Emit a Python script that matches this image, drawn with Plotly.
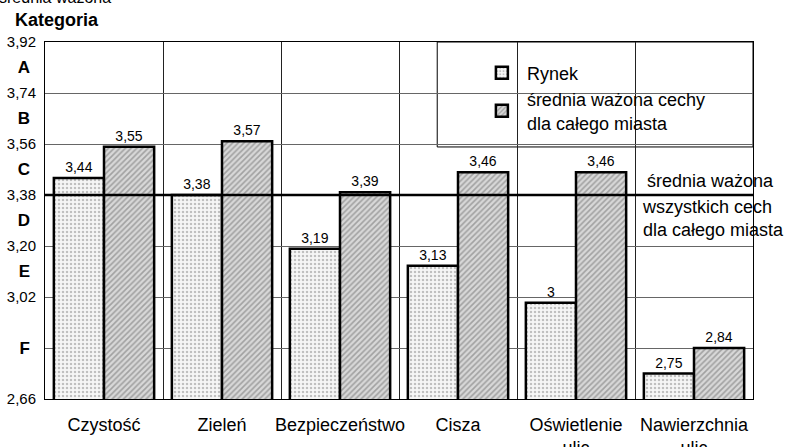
import plotly.graph_objects as go

categories = ["Czystość", "Zieleń", "Bezpieczeństwo", "Cisza", "Oświetlenie<br>ulic", "Nawierzchnia<br>ulic"]
rynek = [3.44, 3.38, 3.19, 3.13, 3.00, 2.75]
miasto = [3.55, 3.57, 3.39, 3.46, 3.46, 2.84]
overall_avg = 3.38
y_ticks = [2.66, 2.84, 3.02, 3.20, 3.38, 3.56, 3.74, 3.92]
y_ticktext = ["2,66", "", "3,02", "3,20", "3,38", "3,56", "3,74", "3,92"]
grade_vals = [2.84, 3.11, 3.29, 3.47, 3.65, 3.83]
grade_text = ["F", "E", "D", "C", "B", "A"]
series_names = ["Rynek", "średnia ważona cechy<br>dla całego miasta"]

FONT = "Arial, Liberation Sans, sans-serif"


def fmt(v):
    return f"{v:g}".replace(".", ",")


fig = go.Figure()
fig.add_trace(go.Bar(
    x=categories, y=rynek, name=series_names[0],
    text=[fmt(v) for v in rynek], textposition="outside",
    textfont=dict(size=14, color="black", family=FONT), cliponaxis=False,
    marker=dict(color="white", line=dict(color="black", width=2.5),
                pattern=dict(shape=".", fgcolor="#8a8a8a", bgcolor="#f6f6f6", size=4, solidity=0.3)),
))
fig.add_trace(go.Bar(
    x=categories, y=miasto, name=series_names[1],
    text=[fmt(v) for v in miasto], textposition="outside",
    textfont=dict(size=14, color="black", family=FONT), cliponaxis=False,
    marker=dict(color="white", line=dict(color="black", width=2.5),
                pattern=dict(shape="/", fgcolor="#6a6a6a", bgcolor="#d8d8d8", size=4, solidity=0.4)),
))

# invisible trace to keep letters axis alive
fig.add_trace(go.Scatter(x=[categories[0]], y=[overall_avg], yaxis="y2", mode="markers",
                         marker=dict(opacity=0), showlegend=False, hoverinfo="skip"))

fig.add_shape(type="line", xref="paper", x0=0, x1=1, yref="y", y0=overall_avg, y1=overall_avg,
              line=dict(color="black", width=2.5), layer="above")
fig.add_shape(type="rect", xref="paper", yref="paper", x0=0.554, x1=1.0, y0=0.706, y1=1.0,
              line=dict(color="black", width=1), fillcolor="white", layer="between")

ann_font = dict(family=FONT, size=18, color="black")
fig.add_annotation(text="średnia ważona", xref="paper", yref="paper", x=0.848, y=0.61,
                   xanchor="left", yanchor="middle", showarrow=False, font=ann_font)
fig.add_annotation(text="wszystkich cech<br>dla całego miasta", xref="paper", yref="paper",
                   x=0.84, y=0.505, xanchor="left", yanchor="middle", showarrow=False,
                   font=ann_font, align="left")
fig.add_annotation(text="<b>Kategoria</b>", xref="paper", yref="paper", x=-0.045, y=1.062,
                   xanchor="left", yanchor="middle", showarrow=False,
                   font=dict(family=FONT, size=18, color="black"))
fig.add_annotation(text="średnia ważona", xref="paper", yref="paper", x=-0.068, y=1.124,
                   xanchor="left", yanchor="middle", showarrow=False,
                   font=dict(family=FONT, size=16, color="black"))

fig.update_layout(
    width=786, height=447,
    margin=dict(l=45, r=33, t=42, b=48, autoexpand=False),
    paper_bgcolor="white", plot_bgcolor="white",
    barmode="group", bargap=0.15, bargroupgap=0,
    font=dict(family=FONT, color="black"),
    showlegend=True,
    legend=dict(x=0.61, y=0.965, xanchor="left", yanchor="top", bgcolor="rgba(0,0,0,0)",
                borderwidth=0, font=dict(size=18, family=FONT), itemwidth=40,
                tracegroupgap=28),
    xaxis=dict(type="category", tickson="boundaries", showgrid=True, gridcolor="#222", gridwidth=1,
               ticks="", showline=True, linecolor="black", linewidth=1, mirror=True,
               tickangle=0, automargin=False, ticklabelstandoff=9,
               tickfont=dict(size=18, family=FONT, color="black")),
    yaxis=dict(range=[2.66, 3.92], tickvals=y_ticks, ticktext=y_ticktext, showgrid=True,
               gridcolor="#666", gridwidth=1, ticks="", showline=True, linecolor="black",
               linewidth=1, mirror=True, zeroline=False, automargin=False,
               ticklabelstandoff=5,
               tickfont=dict(size=15, family=FONT, color="black")),
    yaxis2=dict(range=[2.66, 3.92], overlaying="y", side="left", tickvals=grade_vals,
                ticktext=[f"<b>{t}</b>" for t in grade_text], showgrid=False, ticks="",
                showline=False, zeroline=False, ticklabelstandoff=14, automargin=False,
                tickfont=dict(size=17, family=FONT, color="black")),
)

fig.write_html("out.html", config={"displayModeBar": False},
               post_script="document.body.style.margin='0px';")
